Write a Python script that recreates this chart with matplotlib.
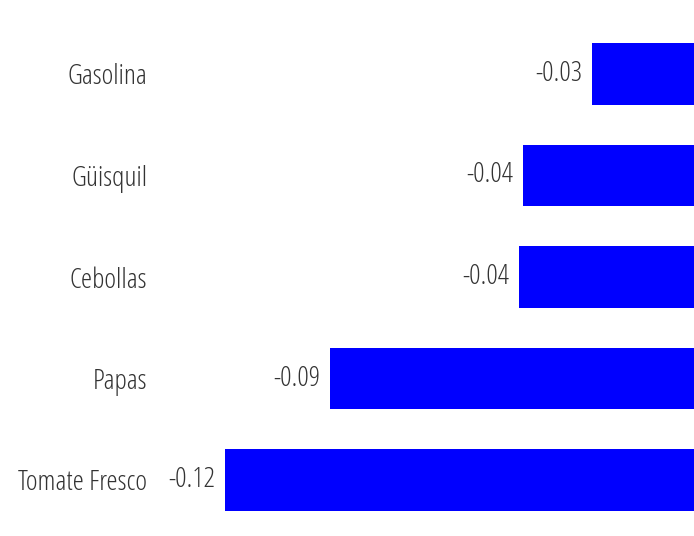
import matplotlib
matplotlib.use("Agg")
import matplotlib.pyplot as plt

# datos (de abajo hacia arriba)
productos = ["Tomate Fresco", "Papas", "Cebollas", "Güisquil", "Gasolina"]
valores = [-0.12, -0.0931, -0.0448, -0.0437, -0.0261]
etiquetas = ["-0.12", "-0.09", "-0.04", "-0.04", "-0.03"]

plt.rcParams['font.family'] = ['Open Sans', 'DejaVu Sans']
estilo = dict(fontsize=20.3, color="#333333", fontweight="light",
              fontstretch="condensed")

fig = plt.figure(figsize=(6.94, 5.36), dpi=100)
ax = fig.add_axes([225 / 694, 1 - 530.75 / 536, 1 - 225 / 694, 507.5 / 536])

pos = range(len(productos))
ax.barh(pos, valores, height=0.61, color="#0000ff")
ax.set_xlim(min(valores), 0)
ax.set_ylim(-0.5, len(productos) - 0.5)

# etiquetas de valor a la izquierda de cada barra
for i, (v, t) in enumerate(zip(valores, etiquetas)):
    ax.annotate(t, (v, i), xytext=(-10, 0), textcoords="offset pixels",
                ha="right", va="center", **estilo)

ax.set_yticks(list(pos))
ax.set_yticklabels(productos, **estilo)
ax.tick_params(axis="y", length=0, pad=56)
ax.set_xticks([])
for s in ax.spines.values():
    s.set_visible(False)

fig.savefig("out.png", dpi=100)
